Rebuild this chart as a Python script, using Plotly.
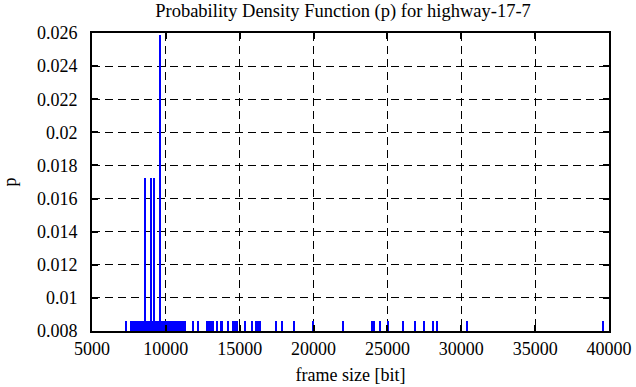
import plotly.graph_objects as go

# frame sizes [bit] of distinct values and their probability
frame_size = [
    7300,
    7640, 7690, 7760, 7800, 7870, 7920, 7990, 8040, 8110, 8160, 8230, 8270, 8340, 8400, 8450, 8520,
    8615, 8680, 8740, 8790, 8850, 8910, 8987, 9040, 9100, 9140, 9189, 9250, 9300, 9350, 9410,
    9460, 9520, 9595, 9650, 9700, 9760, 9820, 9870, 9930, 9980, 10040, 10100, 10150, 10210,
    10270, 10320, 10390, 10440, 10500,
    10620, 10700, 10780, 10860, 10950, 11040, 11130, 11220, 11300,
    11830, 12170,
    12780, 12850, 12930, 13000, 13080, 13160, 13230,
    13450, 13720, 13850, 14190, 14560, 14680, 14800,
    15400, 15880, 16150, 16280, 16420, 17500, 17900, 18720,
    20000, 22030, 23990, 24130, 24530, 25070, 26080, 26890, 27510, 28110, 28380,
    30410, 39600,
]
p_one = 1 / 116
tall = {8615: 2, 8987: 2, 9189: 2, 9595: 3}
probability = [tall.get(f, 1) * p_one for f in frame_size]

x_ticks = [5000, 10000, 15000, 20000, 25000, 30000, 35000, 40000]
y_ticks = [0.008, 0.01, 0.012, 0.014, 0.016, 0.018, 0.02, 0.022, 0.024, 0.026]

FONT = "Liberation Serif, Times New Roman, serif"
FS = 18

fig = go.Figure()
fig.add_trace(go.Bar(
    x=frame_size, y=probability, width=[100] * len(frame_size),
    marker=dict(color="#0000ff", line=dict(width=0)),
))

axis_common = dict(
    showline=True, linecolor="black", linewidth=2, mirror="ticks",
    ticks="inside", ticklen=6, tickwidth=1.5, tickcolor="black",
    showgrid=True, gridcolor="black", gridwidth=1, griddash="8px,5px",
    zeroline=False, automargin=False,
    tickfont=dict(family=FONT, size=FS, color="black"),
)

fig.update_layout(
    width=636, height=387,
    margin=dict(l=92, r=27, t=33, b=56),
    paper_bgcolor="white", plot_bgcolor="white",
    showlegend=False, bargap=0,
    font=dict(family=FONT, size=FS, color="black"),
    title=dict(text="Probability Density Function (p) for highway-17-7",
               xref="paper", x=0.4855, xanchor="center",
               yref="container", y=1 - 11 / 387, yanchor="middle",
               automargin=False,
               font=dict(family=FONT, size=18.5, color="black")),
    xaxis=dict(range=[5000, 40000], tickvals=x_ticks,
               ticktext=[str(v) for v in x_ticks],
               title=dict(text="frame size [bit]", standoff=11,
                          font=dict(family=FONT, size=FS)),
               ticklabelstandoff=0,
               **axis_common),
    yaxis=dict(range=[0.008, 0.026], tickvals=y_ticks,
               ticktext=[f"{v:g}" for v in y_ticks],
               title=dict(text="p", standoff=22, font=dict(family=FONT, size=FS)),
               ticklabelstandoff=9,
               **axis_common),
)

fig.write_html("out.html", config={"displayModeBar": False},
               post_script="document.body.style.margin='0';")
